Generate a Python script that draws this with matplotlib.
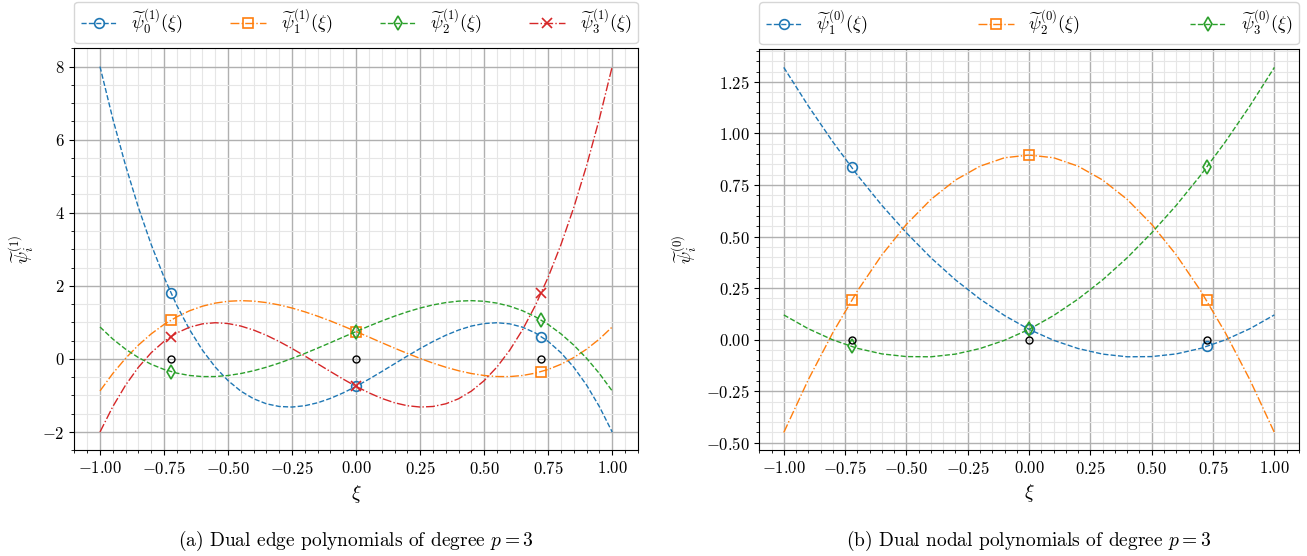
import numpy as np
import matplotlib
matplotlib.use("Agg")
import matplotlib.pyplot as plt

plt.rcParams["font.family"] = "serif"
plt.rcParams["font.serif"] = ["cmr10"]
plt.rcParams["mathtext.fontset"] = "cm"
plt.rcParams["axes.formatter.use_mathtext"] = True
plt.rcParams["axes.unicode_minus"] = True

# sample positions
xi_edge = np.round(np.arange(-1.0, 1.0001, 0.05), 2)
xi_nodal = np.round(np.arange(-1.0, 1.0001, 0.1), 2)

# node positions (markers)
nodes = [-0.7236, 0.0, 0.7236]

# (a) dual edge polynomials, values read at xi_edge
psi0_edge = [8.000, 6.574, 5.291, 4.145, 3.130, 2.238, 1.464, 0.800, 0.240, -0.222,
             -0.594, -0.881, -1.090, -1.228, -1.301, -1.316, -1.280, -1.199, -1.079, -0.927,
             -0.750, -0.554, -0.346, -0.133, 0.080, 0.285, 0.476, 0.647, 0.790, 0.900,
             0.969, 0.991, 0.960, 0.869, 0.711, 0.480, 0.170, -0.227, -0.716, -1.305, -2.000]
psi1_edge = [-0.875, -0.399, 0.018, 0.378, 0.686, 0.943, 1.153, 1.319, 1.443, 1.528,
             1.578, 1.595, 1.582, 1.542, 1.478, 1.393, 1.289, 1.170, 1.039, 0.898,
             0.750, 0.599, 0.446, 0.296, 0.151, 0.014, -0.113, -0.226, -0.322, -0.399,
             -0.453, -0.482, -0.483, -0.453, -0.388, -0.287, -0.146, 0.038, 0.267, 0.545, 0.875]
psi2_edge = [0.875, 0.545, 0.267, 0.038, -0.146, -0.287, -0.388, -0.453, -0.483, -0.482,
             -0.453, -0.399, -0.322, -0.226, -0.113, 0.014, 0.151, 0.296, 0.446, 0.599,
             0.750, 0.898, 1.039, 1.170, 1.289, 1.393, 1.478, 1.542, 1.582, 1.595,
             1.578, 1.528, 1.443, 1.319, 1.153, 0.943, 0.686, 0.378, 0.018, -0.399, -0.875]
psi3_edge = [-2.000, -1.305, -0.716, -0.227, 0.170, 0.480, 0.711, 0.869, 0.960, 0.991,
             0.969, 0.900, 0.790, 0.647, 0.476, 0.285, 0.080, -0.133, -0.346, -0.554,
             -0.750, -0.927, -1.079, -1.199, -1.280, -1.316, -1.301, -1.228, -1.090, -0.881,
             -0.594, -0.222, 0.240, 0.800, 1.464, 2.238, 3.130, 4.145, 5.291, 6.574, 8.000]
edge_at_nodes = [[1.815, -0.750, 0.612],
                 [1.060, 0.750, -0.345],
                 [-0.345, 0.750, 1.060],
                 [0.612, -0.750, 1.815]]

# (b) dual nodal polynomials, values read at xi_nodal
psi1_nodal = [1.320, 1.133, 0.959, 0.798, 0.651, 0.518, 0.397, 0.290, 0.197, 0.117,
              0.050, -0.003, -0.043, -0.070, -0.083, -0.082, -0.069, -0.042, -0.001, 0.053, 0.120]
psi2_nodal = [-0.450, -0.194, 0.034, 0.236, 0.411, 0.559, 0.680, 0.774, 0.841, 0.882,
              0.895, 0.882, 0.841, 0.774, 0.680, 0.559, 0.411, 0.236, 0.034, -0.194, -0.450]
psi3_nodal = [0.120, 0.053, -0.001, -0.042, -0.069, -0.082, -0.083, -0.070, -0.043, -0.003,
              0.050, 0.117, 0.197, 0.290, 0.397, 0.518, 0.651, 0.798, 0.959, 1.133, 1.320]
nodal_at_nodes = [[0.835, 0.050, -0.033],
                  [0.191, 0.895, 0.191],
                  [-0.033, 0.050, 0.835]]

colors = ["#1f77b4", "#ff7f0e", "#2ca02c", "#d62728"]
styles = ["--", "-.", "--", "-."]
marks = ["o", "s", "d", "x"]


def style_axes(ax):
    ax.minorticks_on()
    ax.grid(which="major", color="#b0b0b0", linewidth=1.0)
    ax.grid(which="minor", color="#e6e6e6", linewidth=0.8)
    ax.set_axisbelow(True)
    ax.tick_params(labelsize=12)
    ax.set_xticks([-1.0, -0.75, -0.5, -0.25, 0.0, 0.25, 0.5, 0.75, 1.0])
    ax.set_xlim(-1.1, 1.1)


fig = plt.figure(figsize=(13.07, 5.56), dpi=100)
ax1 = fig.add_axes([0.0569, 0.1901, 0.4311, 0.7230])
ax2 = fig.add_axes([0.5809, 0.1906, 0.4129, 0.7212])

# left panel
edge_curves = [psi0_edge, psi1_edge, psi2_edge, psi3_edge]
for i, ys in enumerate(edge_curves):
    ax1.plot(xi_edge, ys, styles[i], color=colors[i], lw=1.0)
    ax1.plot(nodes, edge_at_nodes[i], marks[i], color=colors[i], mfc="none",
             ms=7, mew=1.2)
    # proxy for legend
    ax1.plot([], [], styles[i], color=colors[i], lw=1.0, marker=marks[i], mfc="none",
             ms=7, mew=1.2, label=r"$\widetilde{\psi}_%d^{(1)}(\xi)$" % i)
ax1.plot(nodes, [0, 0, 0], "o", color="black", mfc="none", ms=5, mew=1.0)
style_axes(ax1)
ax1.set_ylim(-2.5, 8.5)
ax1.set_yticks([-2, 0, 2, 4, 6, 8])
ax1.set_xlabel(r"$\xi$", fontsize=14)
ax1.set_ylabel(r"$\widetilde{\psi}_i^{(1)}$", fontsize=13)
ax1.legend(loc="lower left", bbox_to_anchor=(0, 1.012, 1, 0.1), mode="expand",
           ncol=4, borderaxespad=0, fontsize=13, borderpad=0.35)

# right panel
nodal_curves = [psi1_nodal, psi2_nodal, psi3_nodal]
for i, ys in enumerate(nodal_curves):
    ax2.plot(xi_nodal, ys, styles[i], color=colors[i], lw=1.0)
    ax2.plot(nodes, nodal_at_nodes[i], marks[i], color=colors[i], mfc="none",
             ms=7, mew=1.2)
    ax2.plot([], [], styles[i], color=colors[i], lw=1.0, marker=marks[i], mfc="none",
             ms=7, mew=1.2, label=r"$\widetilde{\psi}_%d^{(0)}(\xi)$" % (i + 1))
ax2.plot(nodes, [0, 0, 0], "o", color="black", mfc="none", ms=5, mew=1.0)
style_axes(ax2)
ax2.set_ylim(-0.535, 1.409)
ax2.set_yticks([-0.5, -0.25, 0.0, 0.25, 0.5, 0.75, 1.0, 1.25])
ax2.set_xlabel(r"$\xi$", fontsize=14)
ax2.set_ylabel(r"$\widetilde{\psi}_i^{(0)}$", fontsize=13)
ax2.legend(loc="lower left", bbox_to_anchor=(0, 1.012, 1, 0.1), mode="expand",
           ncol=3, borderaxespad=0, fontsize=13, borderpad=0.35)

fig.text(0.0569 + 0.4311 / 2, 0.027, r"(a) Dual edge polynomials of degree $p = 3$",
         ha="center", va="center", fontsize=14)
fig.text(0.5809 + 0.4129 / 2, 0.027, r"(b) Dual nodal polynomials of degree $p = 3$",
         ha="center", va="center", fontsize=14)

fig.savefig("out.png", dpi=100)
